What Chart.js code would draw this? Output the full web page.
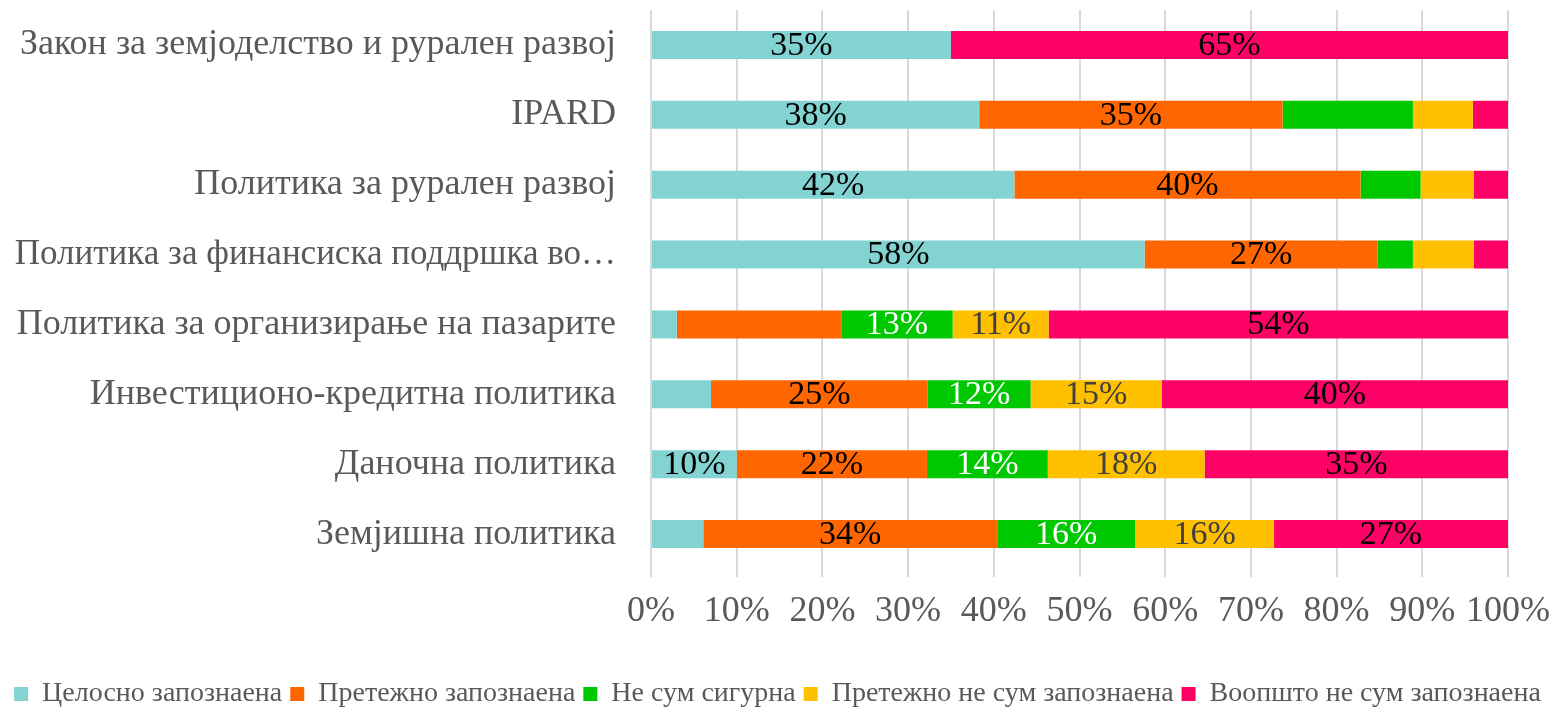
<!DOCTYPE html>
<html>
<head>
<meta charset="utf-8">
<script src="https://cdn.jsdelivr.net/npm/chart.js@4/dist/chart.umd.min.js"></script>
<style>
html,body{margin:0;padding:0;background:#fff;}
#wrap{width:1555px;height:711px;}
</style>
</head>
<body>
<div id="wrap"><canvas id="c" width="1555" height="711"></canvas></div>
<script>
const categories = [
  'Закон за земјоделство и рурален развој',
  'IPARD',
  'Политика за рурален развој',
  'Политика за финансиска поддршка во…',
  'Политика за организирање на пазарите',
  'Инвестиционо-кредитна политика',
  'Даночна политика',
  'Земјишна политика'
];
const seriesNames = ['Целосно запознаена','Претежно запознаена','Не сум сигурна','Претежно не сум запознаена','Воопшто не сум запознаена'];
const fullyAware   = [35.0, 38.3, 42.4, 57.6,  3.0,  7.0, 10.0,  6.1];
const mostlyAware  = [ 0.0, 35.4, 40.4, 27.2, 19.2, 25.3, 22.2, 34.3];
const notSure      = [ 0.0, 15.2,  7.0,  4.1, 13.0, 12.0, 14.1, 16.1];
const mostlyNot    = [ 0.0,  7.0,  6.2,  7.1, 11.2, 15.3, 18.3, 16.2];
const notAtAll     = [65.0,  4.1,  4.0,  4.0, 53.6, 40.4, 35.4, 27.3];
// which segments carry a value label in the reference
const labelFully   = [1,1,1,1,0,0,1,0];
const labelMostly  = [0,1,1,1,0,1,1,1];
const labelNotSure = [0,0,0,0,1,1,1,1];
const labelMostlyNot = [0,0,0,0,1,1,1,1];
const labelNotAtAll  = [1,0,0,0,1,1,1,1];
const xTickLabels = ['0%','10%','20%','30%','40%','50%','60%','70%','80%','90%','100%'];

const colors = ['#82D3D2','#FF6600','#00C800','#FFC000','#FF0066'];
const labelColors = ['#000000','#000000','#FFFFFF','#404040','#000000'];
const FONT = "'Liberation Serif', 'Times New Roman', serif";

const seriesData = [fullyAware, mostlyAware, notSure, mostlyNot, notAtAll];
const labelFlags = [labelFully, labelMostly, labelNotSure, labelMostlyNot, labelNotAtAll];

const valueLabels = {
  id: 'valueLabels',
  afterDatasetsDraw(chart) {
    const ctx = chart.ctx;
    ctx.save();
    ctx.font = "34px " + FONT;
    ctx.textAlign = 'center';
    ctx.textBaseline = 'middle';
    chart.data.datasets.forEach((ds, i) => {
      const meta = chart.getDatasetMeta(i);
      meta.data.forEach((el, j) => {
        if (!labelFlags[i][j]) return;
        const x = (el.x + el.base) / 2;
        ctx.fillStyle = labelColors[i];
        ctx.fillText(Math.round(ds.data[j]) + '%', x, el.y + 1);
      });
    });
    ctx.restore();
  }
};

new Chart(document.getElementById('c'), {
  type: 'bar',
  data: {
    labels: categories,
    datasets: seriesData.map((d, i) => ({
      label: seriesNames[i],
      data: d,
      backgroundColor: colors[i],
      borderWidth: 0,
      barPercentage: 0.4,
      categoryPercentage: 1.0
    }))
  },
  options: {
    indexAxis: 'y',
    responsive: false,
    animation: false,
    devicePixelRatio: 1,
    layout: { padding: { top: 10, right: 0, left: 0, bottom: -7 } },
    scales: {
      x: {
        stacked: true,
        min: 0, max: 100,
        border: { display: false },
        grid: { color: '#D9D9D9', lineWidth: 2, drawTicks: true, tickLength: 8 },
        ticks: {
          stepSize: 10,
          color: '#595959',
          font: { family: FONT, size: 36 },
          padding: 13,
          maxRotation: 0,
          autoSkip: false,
          callback: (v, idx) => xTickLabels[idx]
        },
        afterFit(scale) { scale.height = 103; scale.paddingRight = 47; }
      },
      y: {
        stacked: true,
        border: { display: false },
        grid: { display: false },
        ticks: {
          color: '#595959',
          font: (ctx) => ({ family: FONT, size: ctx.index === 3 ? 35 : 36 }),
          padding: 27,
          autoSkip: false
        },
        afterFit(scale) { scale.width = 651; scale.paddingTop = 0; scale.paddingBottom = 0; }
      }
    },
    plugins: {
      legend: {
        position: 'bottom',
        labels: {
          color: '#595959',
          font: { family: FONT, size: 28 },
          boxWidth: 14,
          boxHeight: 14,
          padding: 8
        }
      },
      tooltip: { enabled: false }
    }
  },
  plugins: [valueLabels]
});
</script>
</body>
</html>
